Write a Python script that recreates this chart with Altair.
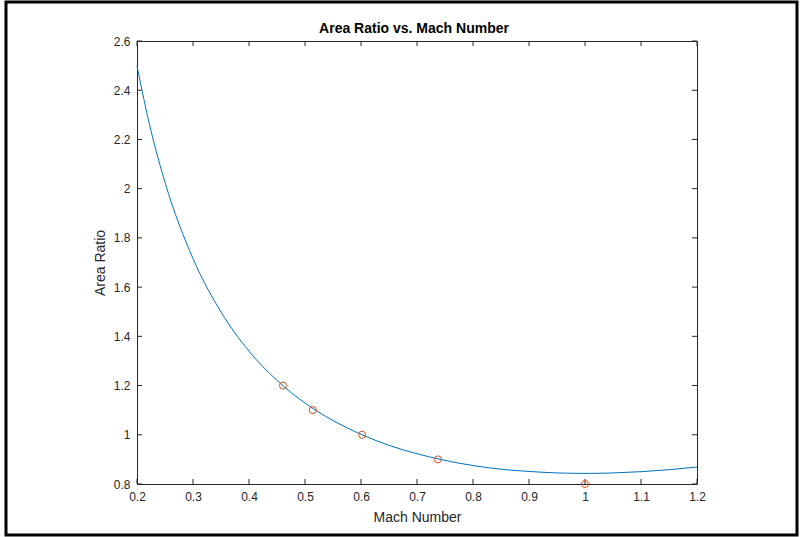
import altair as alt
import pandas as pd

# Curve readings (Mach number vs area ratio)
mach = [0.2, 0.225, 0.25, 0.3, 0.35, 0.4, 0.45, 0.5, 0.55, 0.6, 0.65, 0.7, 0.75,
        0.8, 0.85, 0.9, 0.95, 1.0, 1.05, 1.1, 1.15, 1.2]
area = [2.498, 2.235, 2.026, 1.716, 1.499, 1.340, 1.221, 1.129, 1.058, 1.002, 0.957,
        0.923, 0.896, 0.875, 0.860, 0.851, 0.845, 0.843, 0.845, 0.850, 0.858, 0.869]

# Marked points
pt_mach = [0.4607, 0.514, 0.602, 0.7375, 1.0]
pt_area = [1.2, 1.1, 1.0, 0.9, 0.8]

x_ticks = [0.2, 0.3, 0.4, 0.5, 0.6, 0.7, 0.8, 0.9, 1.0, 1.1, 1.2]
y_ticks = [0.8, 1.0, 1.2, 1.4, 1.6, 1.8, 2.0, 2.2, 2.4, 2.6]

title_text = "Area Ratio vs. Mach Number"

W, H = 560, 443
FONT = "Liberation Sans"
AX = "#262626"

curve = pd.DataFrame({"m": mach, "a": area})
pts = pd.DataFrame({"m": pt_mach, "a": pt_area})
xt = pd.DataFrame({"t": x_ticks})
yt = pd.DataFrame({"t": y_ticks})

xs = alt.Scale(domain=[0.2, 1.2], nice=False, zero=False)
ys = alt.Scale(domain=[0.8, 2.6], nice=False, zero=False)

xaxis = alt.Axis(values=x_ticks, format="~g", ticks=False, domain=False, grid=False,
                 labelFlush=False, labelOverlap=False,
                 labelPadding=7, labelFontSize=12, labelColor=AX, labelFont=FONT,
                 title="Mach Number", titleFont=FONT, titleFontSize=14,
                 titleFontWeight="normal", titleColor=AX, titlePadding=8)
yaxis = alt.Axis(values=y_ticks, format="~g", ticks=False, domain=False, grid=False,
                 labelFlush=False, labelOverlap=False,
                 labelPadding=7, labelFontSize=12, labelColor=AX, labelFont=FONT,
                 title="Area Ratio", titleFont=FONT, titleFontSize=14,
                 titleFontWeight="normal", titleColor=AX, titlePadding=6)

line = alt.Chart(curve).mark_line(color="#0072BD", strokeWidth=1,
                                  interpolate="monotone").encode(
    x=alt.X("m:Q", scale=xs, axis=xaxis),
    y=alt.Y("a:Q", scale=ys, axis=yaxis),
)

circles = alt.Chart(pts).mark_point(shape="circle", size=50, color="#D95319",
                                    strokeWidth=1, filled=False, opacity=1).encode(
    x=alt.X("m:Q", scale=xs),
    y=alt.Y("a:Q", scale=ys),
)

tick_len = 5
bx = alt.Chart(xt).mark_rule(color=AX, strokeWidth=1).encode(
    x=alt.X("t:Q", scale=xs), y=alt.value(H), y2=alt.value(H - tick_len))
tx = alt.Chart(xt).mark_rule(color=AX, strokeWidth=1).encode(
    x=alt.X("t:Q", scale=xs), y=alt.value(0), y2=alt.value(tick_len))
ly = alt.Chart(yt).mark_rule(color=AX, strokeWidth=1).encode(
    y=alt.Y("t:Q", scale=ys), x=alt.value(0), x2=alt.value(tick_len))
ry = alt.Chart(yt).mark_rule(color=AX, strokeWidth=1).encode(
    y=alt.Y("t:Q", scale=ys), x=alt.value(W), x2=alt.value(W - tick_len))

frame = alt.Chart(alt.Data(values=[{}])).mark_rect(
    fill=None, stroke="black", strokeWidth=3).encode(
    x=alt.value(-131), x2=alt.value(660), y=alt.value(-39), y2=alt.value(494))

title = alt.Chart(alt.Data(values=[{"t": title_text}])).mark_text(
    font=FONT, fontSize=14, fontWeight="bold", color="black",
    align="center", baseline="middle").encode(
    text="t:N", x=alt.value(277), y=alt.value(-12))

chart = alt.layer(bx, tx, ly, ry, line, circles, frame, title).properties(
    width=W, height=H,
    autosize="none",
    padding={"left": 137, "top": 41, "right": 104, "bottom": 53},
    background="white",
).configure_view(stroke=AX, strokeWidth=1)

chart.save("out.html", embed_options={"renderer": "svg", "actions": False})
